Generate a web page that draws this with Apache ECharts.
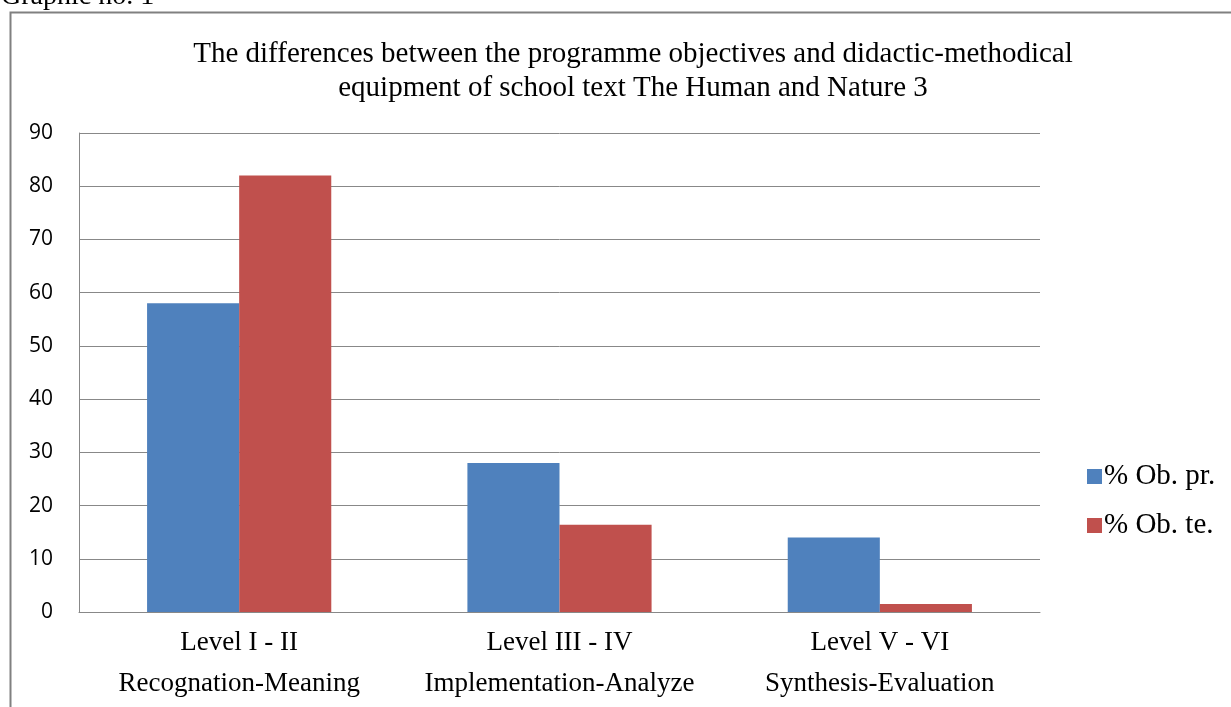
<!DOCTYPE html>
<html><head><meta charset="utf-8">
<script src="https://cdn.jsdelivr.net/npm/echarts@6/dist/echarts.min.js"></script>
<style>html,body{margin:0;padding:0;background:#fff}#c{width:1231px;height:707px}</style>
</head><body><div id="c"></div>
<script>
const categories = ["Level I - II\nRecognation-Meaning", "Level III - IV\nImplementation-Analyze", "Level V - VI\nSynthesis-Evaluation"];
const seriesNames = ["% Ob. pr.", "% Ob. te."];
const obPr = [58, 28, 14];
const obTe = [82, 16.4, 1.5];
const yTicks = [0, 10, 20, 30, 40, 50, 60, 70, 80, 90];

const chart = echarts.init(document.getElementById('c'), null, {renderer: 'canvas'});
const serif = '"Liberation Serif", "Times New Roman", serif';
chart.setOption({
  animation: false,
  backgroundColor: '#fff',
  title: {
    text: 'The differences between the programme objectives and didactic-methodical\nequipment of school text The Human and Nature 3',
    left: 628, top: 32, textAlign: 'center',
    textStyle: {fontFamily: serif, fontSize: 29, fontWeight: 'normal', color: '#000', lineHeight: 34}
  },
  graphic: [
    {type: 'rect', shape: {x: 10.5, y: 12.5, width: 1240, height: 720}, style: {fill: 'none', stroke: '#808080', lineWidth: 2}},
    {type: 'text', left: 1, top: -17, style: {text: 'Graphic no. 1', font: '28px "Liberation Serif", serif', fill: '#000'}}
  ],
  legend: {
    orient: 'vertical', left: 1082, top: 457, itemGap: 20, itemWidth: 15, itemHeight: 15,
    icon: 'rect',
    textStyle: {fontFamily: serif, fontSize: 29, color: '#000', lineHeight: 29, padding: [0,0,0,-3]},
    data: seriesNames
  },
  grid: {left: 79, right: 191, top: 133, bottom: 95, containLabel: false},
  xAxis: {
    type: 'category', data: categories,
    axisLine: {lineStyle: {color: '#888', width: 1}},
    axisTick: {show: false},
    axisLabel: {fontFamily: serif, fontSize: 27, color: '#000', lineHeight: 41, margin: 10, interval: 0, hideOverlap: false}
  },
  yAxis: {
    type: 'value', min: 0, max: 90, interval: 10,
    axisLine: {show: true, lineStyle: {color: '#888'}},
    axisTick: {show: false},
    splitLine: {lineStyle: {color: '#888', width: 1}},
    axisLabel: {fontFamily: '"Open Sans", "DejaVu Sans", sans-serif', fontSize: 21, color: '#000', margin: 26,
      formatter: v => yTicks.includes(v) ? String(v) : ''}
  },
  series: [
    {name: seriesNames[0], type: 'bar', data: obPr, itemStyle: {color: '#4F81BD'}, barGap: '0%', barCategoryGap: '42.5%'},
    {name: seriesNames[1], type: 'bar', data: obTe, itemStyle: {color: '#C0504D'}, barGap: '0%', barCategoryGap: '42.5%'}
  ]
});
</script></body></html>
